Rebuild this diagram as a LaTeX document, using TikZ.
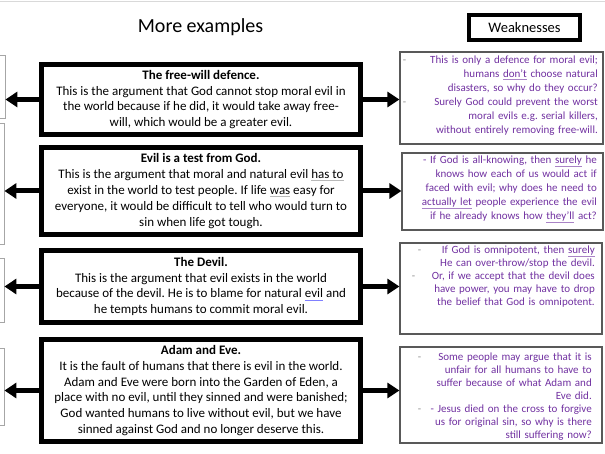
\documentclass[tikz,border=0pt]{standalone}
\usepackage{fontspec}
\setmainfont{Carlito}
\usetikzlibrary{arrows.meta}
\frenchspacing

\definecolor{weakpurple}{RGB}{112,48,160}
% spell-check style underline
\newcommand{\wmark}[2][gray!55]{\leavevmode\setbox0\hbox{#2}\rlap{\raisebox{-2.2pt}{\textcolor{#1}{\rule{\wd0}{0.5pt}}}}\box0\relax}
% bullet line: dash on the left, text flush right
\newcommand{\wdash}[2]{\leavevmode\hbox to \hsize{\hspace*{#1}\textcolor{black!45}{-}\hfill #2}}

\begin{document}
\begin{tikzpicture}[x=1pt, y=-1pt,
    mainbox/.style={draw, rectangle, line width=5pt, fill=white, align=center,
      inner sep=0pt, minimum width=319pt, font=\fontsize{13}{15.8}\selectfont},
    sidebox/.style={draw=gray!70, rectangle, line width=0.8pt, minimum width=100pt},
    weakbox/.style={draw=black!65, rectangle, line width=1.2pt},
    weaktext/.style={anchor=north east, inner sep=0pt, align=right, text=weakpurple},
    arrowline/.style={line width=5pt, -{Triangle[length=12pt,width=15pt]}}]
    \clip (0,0) rectangle (605,454);
    \draw[gray!30] (0,1) -- (605,1);

    % headings
    \node[anchor=base, font=\fontsize{20}{24}\selectfont] (title) at (200.5,33) {More examples};
    \node[draw, rectangle, line width=4pt, minimum width=111pt, minimum height=25pt,
      font=\fontsize{14.5}{17}\selectfont] (weak) at (524.5,27.5) {Weaknesses};

    % arguments
    \node[mainbox, minimum height=70pt] (free) at (201,99.5) {\textbf{The free-will defence.}\\
      This is the argument that God cannot stop moral evil in\\
      the world because if he did, it would take away free-\\
      will, which would be a greater evil.};
    \node[mainbox, minimum height=87pt] (test) at (201,191) {\textbf{Evil is a test from God.}\\
      This is the argument that moral and natural evil \wmark{has to}\\
      exist in the world to test people. If life \wmark{was} easy for\\
      everyone, it would be difficult to tell who would turn to\\
      sin when life got tough.};
    \node[mainbox, minimum height=72pt] (devil) at (201,286.5) {\textbf{The Devil.}\\
      This is the argument that evil exists in the world\\
      because of the devil. He is to blame for natural \wmark[blue!50]{evil} and\\
      he tempts humans to commit moral evil.};
    \node[mainbox, minimum height=102pt] (adam) at (201,390.5) {\textbf{Adam and Eve.}\\
      It is the fault of humans that there is evil in the world.\\
      Adam and Eve were born into the Garden of Eden, a\\
      place with no evil, until they sinned and were banished;\\
      God wanted humans to live without evil, but we have\\
      sinned against God and no longer deserve this.};

    % boxes cut off at the left edge
    \node[sidebox, minimum height=63pt] (freeL) at (-45,86.5) {};
    \node[sidebox, minimum height=121pt] (testL) at (-46,183.5) {};
    \node[sidebox, minimum height=64pt] (devilL) at (-46,290) {};
    \node[sidebox, minimum height=77pt] (adamL) at (-46,386.5) {};

    % weaknesses
    \node[weakbox, minimum width=203pt, minimum height=92pt] (freeR) at (501.5,98) {};
    \node[weakbox, minimum width=201pt, minimum height=77pt] (testR) at (502.5,191.5) {};
    \node[weakbox, minimum width=202pt, minimum height=91pt] (devilR) at (501,288.5) {};
    \node[weakbox, minimum width=202pt, minimum height=96pt] (adamR) at (501,395) {};

    \node[weaktext, text width=195pt, font=\fontsize{11}{14}\selectfont] (freeW) at (598,55.5) {%
      \wdash{0pt}{This is only a defence for moral evil;}\\
      humans \wmark[weakpurple!60]{don’t} choose natural\\
      disasters, so why do they occur?\\
      \wdash{0pt}{Surely God could prevent the worst}\\
      moral evils e.g. serial killers,\\
      without entirely removing free-will.};
    \node[weaktext, text width=193pt, font=\fontsize{11}{14}\selectfont] (testW) at (597,156) {%
      - If God is all-knowing, then \wmark[weakpurple!60]{surely} he\\
      knows how each of us would act if\\
      faced with evil; why does he need to\\
      \wmark[weakpurple!60]{actually let} people experience the evil\\
      if he already knows how \wmark[weakpurple!60]{they’ll} act?};
    \node[weaktext, text width=191pt, font=\fontsize{11}{13}\selectfont] (devilW) at (595,246) {%
      \wdash{14pt}{If God is omnipotent, then \wmark[weakpurple!60]{surely}}\\
      He can over-throw/stop the devil.\\
      \wdash{8pt}{Or, if we accept that the devil does}\\
      have power, you may have to drop\\
      the belief that God is omnipotent.};
    \node[weaktext, text width=188pt, font=\fontsize{11}{13}\selectfont] (adamW) at (592,353) {%
      \wdash{14pt}{Some people may argue that it is}\\
      unfair for all humans to have to\\
      suffer because of what Adam and\\
      Eve did.\\
      \wdash{14pt}{- Jesus died on the cross to forgive}\\
      us for original sin, so why is there\\
      still suffering now?};

    % arrows
    \foreach \n in {free,test,devil,adam} {
      \draw[arrowline] (\n.west) -- (\n.west -| \n L.east);
      \draw[arrowline] (\n.east) -- (\n.east -| \n R.west);
    }
\end{tikzpicture}
\end{document}
